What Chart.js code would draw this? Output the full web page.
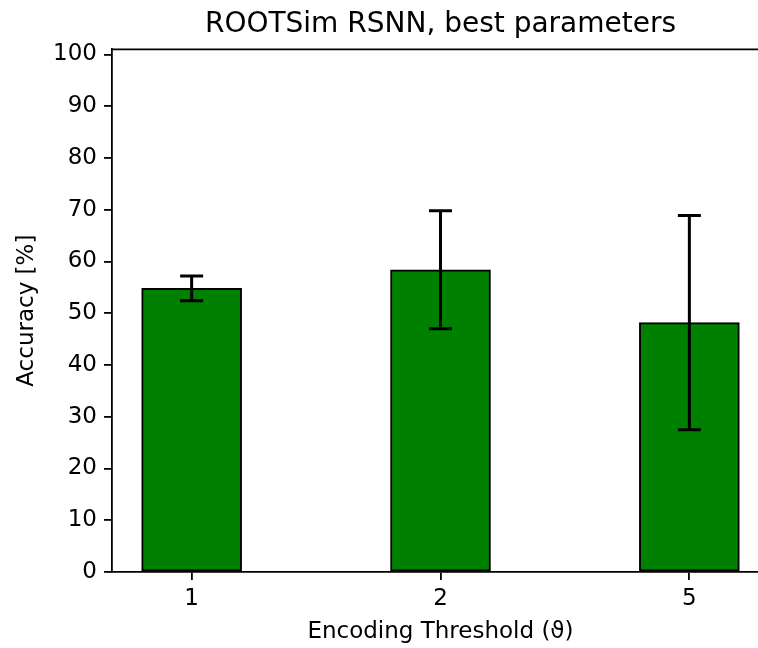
<!DOCTYPE html>
<html>
<head>
<meta charset="utf-8">
<script src="https://cdn.jsdelivr.net/npm/chart.js@4"></script>
<style>
  html, body { margin: 0; padding: 0; background: #fff; overflow: hidden; }
  canvas { display: block; }
</style>
</head>
<body>
<canvas id="chart" width="880" height="648"></canvas>
<script>
// Encoding threshold categories and mean accuracy with spread
const categories = ['1', '2', '5'];
const positions = [0, 1, 2];
const accuracy = [54.8, 58.4, 48.2];
const accuracyErr = [2.4, 11.4, 20.7];
const yTicks = [0, 10, 20, 30, 40, 50, 60, 70, 80, 90, 100];
const titleText = 'ROOTSim RSNN, best parameters';

const FONT = 'DejaVu Sans';
const INK = '#000000';

// Error bars with caps, drawn on top of the bars
const errorBars = {
  id: 'errorBars',
  afterDatasetsDraw(chart) {
    const { ctx, scales: { x, y } } = chart;
    ctx.save();
    ctx.strokeStyle = INK;
    ctx.lineWidth = 3;
    ctx.lineCap = 'butt';
    const cap = 11.5;
    positions.forEach((p, i) => {
      const px = x.getPixelForValue(p);
      const top = y.getPixelForValue(accuracy[i] + accuracyErr[i]);
      const bot = y.getPixelForValue(accuracy[i] - accuracyErr[i]);
      ctx.beginPath();
      ctx.moveTo(px, top); ctx.lineTo(px, bot);
      ctx.moveTo(px - cap, top); ctx.lineTo(px + cap, top);
      ctx.moveTo(px - cap, bot); ctx.lineTo(px + cap, bot);
      ctx.stroke();
    });
    ctx.restore();
  }
};

// Top spine of the axes frame and the title centred over the axes
const frame = {
  id: 'frame',
  afterDraw(chart) {
    const { ctx, chartArea: a } = chart;
    ctx.save();
    ctx.strokeStyle = INK;
    ctx.lineWidth = 1.8;
    ctx.beginPath();
    ctx.moveTo(a.left, a.top);
    ctx.lineTo(a.right, a.top);
    ctx.stroke();
    ctx.fillStyle = INK;
    ctx.font = '28px "' + FONT + '"';
    ctx.textAlign = 'center';
    ctx.textBaseline = 'middle';
    ctx.fillText(titleText, (a.left + a.right) / 2, 25);
    ctx.restore();
  }
};

new Chart(document.getElementById('chart'), {
  type: 'bar',
  data: {
    datasets: [{
      data: positions.map((p, i) => ({ x: p, y: accuracy[i] })),
      backgroundColor: '#008000',
      borderColor: INK,
      borderWidth: 2,
      borderSkipped: false,
      barThickness: 100
    }]
  },
  options: {
    responsive: false,
    animation: false,
    events: [],
    layout: { padding: { left: 0, right: 111, top: 49.3, bottom: 0 } },
    plugins: {
      legend: { display: false },
      tooltip: { enabled: false },
      title: { display: false }
    },
    scales: {
      x: {
        type: 'linear',
        offset: false,
        min: -0.32,
        max: 2.32,
        afterBuildTicks(scale) { scale.ticks = positions.map(v => ({ value: v })); },
        afterFit(scale) { scale.height = 76; },
        ticks: {
          color: INK,
          font: { family: FONT, size: 23 },
          padding: 5,
          maxRotation: 0,
          autoSkip: false,
          callback: (v, i) => categories[i]
        },
        grid: { display: true, offset: false, drawOnChartArea: false, color: INK, lineWidth: 1.8, tickLength: 8 },
        border: { display: true, color: INK, width: 1.8 },
        title: {
          display: true,
          text: 'Encoding Threshold (ϑ)',
          color: INK,
          font: { family: FONT, size: 23 },
          padding: { top: 0, bottom: 2 }
        }
      },
      y: {
        type: 'linear',
        min: 0,
        max: 101,
        afterBuildTicks(scale) { scale.ticks = yTicks.map(v => ({ value: v })); },
        afterFit(scale) { scale.width = 112; },
        ticks: {
          color: INK,
          font: { family: FONT, size: 23 },
          padding: 7,
          autoSkip: false
        },
        grid: { display: true, drawOnChartArea: false, color: INK, lineWidth: 1.8, tickLength: 8 },
        border: { display: true, color: INK, width: 1.8 },
        title: {
          display: true,
          text: 'Accuracy [%]',
          color: INK,
          font: { family: FONT, size: 23 },
          padding: { top: 13, bottom: 0 }
        }
      }
    }
  },
  plugins: [errorBars, frame]
});
</script>
</body>
</html>
